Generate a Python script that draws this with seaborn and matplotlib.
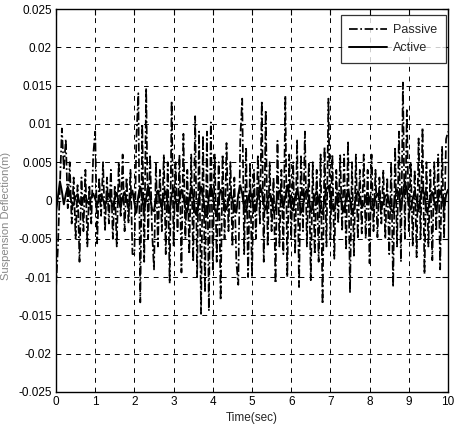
import numpy as np
import pandas as pd
import matplotlib
matplotlib.use("Agg")
import matplotlib.pyplot as plt
import seaborn as sns

# Passive response (x1e-3), sampled every 0.05 s from 0 to 10 s
passive_milli = [
    -11.5, -6, 2, 9.4, 4, 8, -1, 5, -3, 3, -5, 2, -8, 3, -4, 4, -6, 2, -3, 6,
    9, -5.6, 3, -2, 5, -4, 3, -3, 4, -5, 2, -6, 5, -2, 6, -4, 3, -3, 4, -7,
    -7, 8, 14, -13.3, 10, -8, 14.7, -5, 6, -4, -9, 5, -6, 4, -4, 6, -7, 5, -10.8, 13,
    -6, 5, -4, 6, -9.4, 8.7, -5, 4, -7, 6, -8, 11, -10, 9, -14.8, 8.5, -12, 9, -14.4, 10.2,
    -9, 6, -8, 5, -13, 6, -5, 7.5, -4, 5, -6, 3, -8, -11, 8, 13.3, -7, 7, -10, 5,
    -10, 4, -5, 6, -3, 13, -8, 11.8, -6, 5, -4, 3, -10.8, 7.8, -6, 4, -7, 13.7, -10, 6,
    -5, 5, -7, 8, -11.3, 6, -4, 9, -6, 5, -10.4, 5, -7, 4, -8, 6, -13.5, 7, -6, 13.3,
    -5, 6, -7.6, 4, -3, 5.9, -4, 6, -6.5, 7.8, -12.1, 5, -7.2, 6, -5, 4, -4.3, 6, -5, 4,
    -8.2, 6, -4, 4, -4.8, 3, -3, 4, -5, 3, -7, 5, -11.3, 7, -6, 9, -8, 15.4, -5, 11.8,
    -4, 5, -6, 4, -7.4, 8.1, -5, 9.5, -9.6, 5, -6, 4, -7.8, 5, -4, 6, -9, 7, -5, 8,
    9,
]

# Active response (x1e-3), same sampling
active_milli = [
    -1.5, 0.5, 2.5, 1.2, -0.5, 0.8, 1.8, 0.8, -0.3, -0.6, 0.5, 0.8, -0.3, -0.6, 0.4, 0.7, -0.2, -0.5, 0.5, 0.9,
    0.2, -0.6, 0.3, 0.8, 0.1, -0.7, 0.2, 0.9, 0.0, -0.8, 0.3, 1.0, -0.2, -1.0, 0.4, 1.1, 0.0, -1.1, 0.5, 1.3,
    -0.3, -1.6, 0.6, 1.8, 0.2, -1.5, 0.3, 1.9, 0.5, -1.2, -1.4, 0.4, 1.3, 0.2, -1.0, 0.6, 1.2, -0.4, -1.6, 0.8,
    1.6, 0.1, -1.2, 0.2, 1.4, 0.5, -1.0, -1.5, 0.3, 1.7, 0.6, -1.6, -2.0, 0.4, 1.8, 0.6, -1.8, -2.1, 0.5, 1.9,
    0.8, -1.2, -1.8, 0.2, 1.4, 0.9, -0.6, -1.2, 0.3, 1.0, 0.2, -1.3, -1.6, 0.8, 2.0, 0.9, -1.0, -1.5, 0.2, 1.2,
    0.5, -1.4, -1.0, 0.6, 1.9, 1.2, -0.5, -1.2, 0.2, 0.9, 0.3, -1.5, -1.2, 0.8, 1.3, 0.2, -0.9, 0.4, 2.0, 0.6,
    -1.0, -1.3, 0.5, 1.4, 0.3, -1.6, -0.8, 0.9, 1.4, 0.2, -1.5, -1.0, 0.6, 1.2, 0.1, -1.4, -1.8, 0.3, 1.5, 1.9,
    0.6, -1.0, -1.3, 0.2, 1.0, 0.8, -0.6, -1.5, 0.4, 1.3, 0.2, -1.8, -1.2, 0.6, 1.2, 0.3, -0.8, -0.6, 0.5, 1.0,
    0.2, -1.2, -0.9, 0.4, 0.9, 0.2, -0.8, -0.5, 0.6, 0.8, -0.4, -1.2, -1.6, 0.5, 1.4, 0.8, -1.2, 0.9, 2.5, 1.4,
    -0.6, -1.2, 0.3, 1.1, 0.2, -1.4, 0.5, 1.6, 0.8, -1.5, -1.0, 0.6, 1.1, -0.2, -1.3, 0.2, 1.3, 0.4, -1.2, 0.7,
    1.4,
]

x_ticks = [0, 1, 2, 3, 4, 5, 6, 7, 8, 9, 10]
y_ticks = [-0.025, -0.02, -0.015, -0.01, -0.005, 0, 0.005, 0.01, 0.015, 0.02, 0.025]
y_ticklabels = ["-0.025", "-0.02", "-0.015", "-0.01", "-0.005", "0",
                "0.005", "0.01", "0.015", "0.02", "0.025"]

n = min(len(passive_milli), len(active_milli))
time = np.linspace(0, 10, n)
df = pd.DataFrame({
    "Time": time,
    "Passive": np.array(passive_milli[:n]) * 1e-3,
    "Active": np.array(active_milli[:n]) * 1e-3,
})

sns.set_style("white")
plt.rcParams["font.family"] = ["Liberation Sans", "DejaVu Sans"]

fig = plt.figure(figsize=(4.54, 4.26), dpi=100)
ax = fig.add_axes([56 / 454, 1 - 392 / 426, (448 - 56) / 454, (392 - 9) / 426])

sns.lineplot(data=df, x="Time", y="Passive", ax=ax, color="black",
             linestyle=(0, (5, 1.5, 1, 1.5)), linewidth=1.25, label="Passive")
sns.lineplot(data=df, x="Time", y="Active", ax=ax, color="black",
             linestyle="-", linewidth=1.4, label="Active")

ax.set_xlim(0, 10)
ax.set_ylim(-0.025, 0.025)
ax.set_xticks(x_ticks)
ax.set_xticklabels([str(v) for v in x_ticks])
ax.set_yticks(y_ticks)
ax.set_yticklabels(y_ticklabels)
ax.tick_params(axis="both", direction="in", length=4, width=0.8, labelsize=8.5,
               top=True, right=True, colors="black", pad=3)
ax.grid(True, color="black", linestyle=(0, (5, 5)), linewidth=0.7)
for s in ax.spines.values():
    s.set_color("black")
    s.set_linewidth(1.0)

ax.set_xlabel("Time(sec)", fontsize=8.5, labelpad=3)
ax.set_ylabel("")
fig.text(0.003, 1 - 216 / 426, "Suspension Deflection(m)", rotation=90,
         ha="left", va="center", fontsize=8, color="#888888")

leg = ax.legend(loc="upper right", bbox_to_anchor=(0.995, 0.984), fontsize=9,
                frameon=True, fancybox=False, edgecolor="black",
                handlelength=3.0, borderpad=0.7, labelspacing=0.5,
                handletextpad=0.5, borderaxespad=0.0)
leg.get_frame().set_linewidth(0.9)

fig.savefig("out.png", dpi=100)
